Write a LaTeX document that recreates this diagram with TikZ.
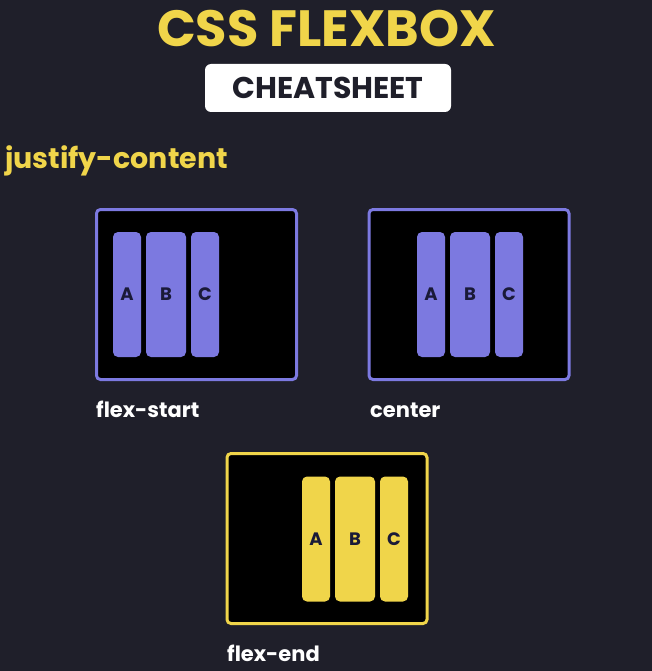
\documentclass[tikz,border=0pt]{standalone}
\usepackage{fontspec}
\setmainfont{Poppins}
\usepackage{xcolor}
\usepackage{tikz}

\definecolor{bgdark}{HTML}{1F1F2A}
\definecolor{flexpurple}{HTML}{7C79E0}
\definecolor{flexyellow}{HTML}{F0D54A}
\definecolor{letterdark}{HTML}{1A1A38}

\tikzset{
	flexbox/.style={draw, line width=3pt, rounded corners=4pt, fill=black,
		minimum width=200pt, minimum height=170pt, inner sep=0pt},
	flexitem/.style={rounded corners=5pt, inner sep=0pt, minimum height=125pt,
		text=letterdark, font=\bfseries\fontsize{18}{18}\selectfont},
	caption/.style={anchor=base west, inner sep=0pt, text=white,
		font=\bfseries\fontsize{21}{21}\selectfont}
}

\begin{document}
\begin{tikzpicture}[x=1pt,y=-1pt]
	\fill[bgdark] (0,0) rectangle (652,671);
	\useasboundingbox (0,0) rectangle (652,671);
	% heading
	\node [anchor=base, inner sep=0pt, text=flexyellow, font=\bfseries\fontsize{51}{51}\selectfont] (title) at (326.5,47) {CSS FLEXBOX};
	\node [fill=white, rounded corners=6pt, minimum width=246pt, minimum height=48pt, inner sep=0pt,
		text=bgdark, font=\bfseries\fontsize{30}{30}\selectfont] (sheet) at (328,88) {CHEATSHEET};
	\node [anchor=base west, inner sep=0pt, text=flexyellow, font=\bfseries\fontsize{28.5}{28.5}\selectfont] (jc) at (5,168) {justify-content};
	% flex-start
	\node [flexbox, draw=flexpurple] (start) at (196.5,294.5) {};
	\node [flexitem, fill=flexpurple, minimum width=28pt] (startA) at (127,294.5) {A};
	\node [flexitem, fill=flexpurple, minimum width=40pt] (startB) at (166,294.5) {B};
	\node [flexitem, fill=flexpurple, minimum width=28pt] (startC) at (205,294.5) {C};
	\node [caption] (startlbl) at (96,417) {flex-start};
	% center
	\node [flexbox, draw=flexpurple] (center) at (469,294.5) {};
	\node [flexitem, fill=flexpurple, minimum width=28pt] (centerA) at (431,294.5) {A};
	\node [flexitem, fill=flexpurple, minimum width=40pt] (centerB) at (470,294.5) {B};
	\node [flexitem, fill=flexpurple, minimum width=28pt] (centerC) at (509,294.5) {C};
	\node [caption] (centerlbl) at (370,417) {center};
	% flex-end
	\node [flexbox, draw=flexyellow] (end) at (327,538.5) {};
	\node [flexitem, fill=flexyellow, minimum width=28pt] (endA) at (316,539) {A};
	\node [flexitem, fill=flexyellow, minimum width=40pt] (endB) at (355,539) {B};
	\node [flexitem, fill=flexyellow, minimum width=28pt] (endC) at (394,539) {C};
	\node [caption] (endlbl) at (227,661) {flex-end};
\end{tikzpicture}
\end{document}
